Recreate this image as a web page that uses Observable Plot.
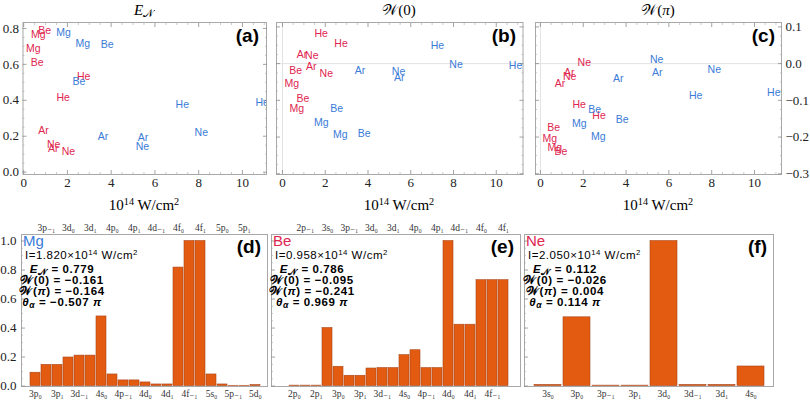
<!DOCTYPE html>
<html>
<head>
<meta charset="utf-8">
<script src="https://cdn.jsdelivr.net/npm/d3@7"></script>
<script src="https://cdn.jsdelivr.net/npm/@observablehq/plot@0.6"></script>
<style>
html,body{margin:0;padding:0;background:#fff;}
#root{position:relative;width:810px;height:401px;overflow:hidden;background:#fff;}
#root svg{position:absolute;overflow:visible;}
.t{position:absolute;white-space:nowrap;line-height:1;}
.t sup{font-size:0.68em;line-height:0;vertical-align:0.5em;}
.t sub{font-size:0.75em;line-height:0;vertical-align:-0.2em;}
.serif{font-family:"Liberation Serif","DejaVu Serif",serif;}
.sans{font-family:"Liberation Sans",Arial,sans-serif;}
</style>
</head>
<body>
<div id="root"></div>
<script>
// ---------------- data: top panels (one entry per computed point) ----------------
const ptElement   = ["Be","Be","Mg","Mg","He","He","Ar","Ar","Ne","Ne",
                     "Mg","Mg","Be","Be","He","He","Ar","Ar","Ne","Ne"];
const ptSet       = ["set1","set1","set1","set1","set1","set1","set1","set1","set1","set1",
                     "set2","set2","set2","set2","set2","set2","set2","set2","set2","set2"];
const ptIntensity = [0.958, 0.62, 0.67, 0.44, 2.74, 1.81, 0.91, 1.35, 2.05, 1.37,
                     1.82, 2.70, 3.82, 2.53, 7.25, 10.9, 3.63, 5.46, 5.43, 8.12];
const ptEN        = [0.786, 0.610, 0.767, 0.688, 0.530, 0.413, 0.233, 0.130, 0.112, 0.154,
                     0.779, 0.713, 0.710, 0.502, 0.376, 0.385, 0.199, 0.195, 0.140, 0.220];
const ptW0        = [-0.095, -0.018, -0.123, -0.055, 0.055, 0.082, 0.025, -0.009, -0.026, 0.023,
                     -0.161, -0.194, -0.191, -0.123, 0.048, -0.005, -0.020, -0.039, -0.023, -0.003];
const ptWpi       = [-0.241, -0.175, -0.230, -0.205, -0.141, -0.111, -0.055, -0.025, 0.004, -0.035,
                     -0.164, -0.200, -0.152, -0.125, -0.086, -0.080, -0.041, -0.025, 0.012, -0.015];

const xTickValues  = [0, 2, 4, 6, 8, 10];
const enTickValues = [0.0, 0.2, 0.4, 0.6, 0.8];
const wTickValues  = [-0.3, -0.2, -0.1, 0.0, 0.1];

// ---------------- data: bottom panels ----------------
const mgStates = ["3p₀","3p₋₁","3p₁","3d₀","3d₋₁","3d₁","4s₀","4p₀","4p₋₁","4p₁","4d₀",
                  "4d₋₁","4d₁","4f₀","4f₋₁","4f₁","5s₀","5p₀","5p₋₁","5p₁","5d₀"];
const mgValues = [0.092,0.146,0.146,0.197,0.210,0.210,0.480,0.080,0.039,0.039,0.025,
                  0.011,0.011,0.817,1.000,1.000,0.080,0.011,0.002,0.002,0.007];
const beStates = ["2p₀","2p₋₁","2p₁","3s₀","3p₀","3p₋₁","3p₁","3d₀","3d₋₁","3d₁",
                  "4s₀","4p₀","4p₋₁","4p₁","4d₀","4d₋₁","4d₁","4f₀","4f₋₁","4f₁"];
const beValues = [0.003,0.003,0.003,0.400,0.133,0.071,0.071,0.121,0.124,0.124,
                  0.213,0.247,0.124,0.124,1.000,0.423,0.423,0.730,0.730,0.730];
const neStates = ["3s₀","3p₀","3p₋₁","3p₁","3d₀","3d₋₁","3d₁","4s₀"];
const neValues = [0.008,0.474,0.003,0.003,1.000,0.008,0.008,0.135];
const barTickValues = [0.0, 0.2, 0.4, 0.6, 0.8, 1.0];

const panelElement   = ["Mg","Be","Ne"];
const panelIntensity = [1.820, 0.958, 2.050];
const panelEN        = [0.779, 0.786, 0.112];
const panelW0        = [-0.161, -0.095, -0.026];
const panelWpi       = [-0.164, -0.241, 0.004];
const panelTheta     = [-0.507, 0.969, 0.114];

// ---------------- styling ----------------
const RED = "#e0264f", BLUE = "#3a7bd8", BAR = "#e35b10";
const SERIF = "'Liberation Serif','DejaVu Serif',serif";
const SANS = "'Liberation Sans',Arial,sans-serif";
const root = document.getElementById("root");
const minus = v => (v < 0 ? "−" : "") + Math.abs(v).toFixed(3);

function place(svg, left, top) {
  svg.style.left = left + "px";
  svg.style.top = top + "px";
  root.appendChild(svg);
}
function addText(html, x, y, {anchor = "start", size = 12, cls = "sans", weight = "normal", color = "#000", italic = false, spacing = 0, lh = 1} = {}) {
  const d = document.createElement("div");
  d.className = "t " + cls;
  d.innerHTML = html;
  d.style.fontSize = size + "px";
  d.style.fontWeight = weight;
  d.style.color = color;
  d.style.letterSpacing = spacing + "px";
  d.style.lineHeight = lh;
  if (italic) d.style.fontStyle = "italic";
  d.style.left = x + "px";
  d.style.top = (y - (0.84 - (1 - lh) / 2) * size) + "px";
  const tx = anchor === "middle" ? "-50%" : anchor === "end" ? "-100%" : "0";
  d.style.transform = `translateX(${tx})`;
  root.appendChild(d);
}

function tickMarks(axis, anchors, major, minor) {
  const A = axis === "x" ? Plot.axisX : Plot.axisY;
  return anchors.flatMap(anchor => [
    A(major, {anchor, tickSize: -4, fill: "none", label: null, stroke: "#8c8c8c", strokeWidth: 0.8}),
    A(minor, {anchor, tickSize: -2, fill: "none", label: null, stroke: "#a8a8a8", strokeWidth: 0.6})
  ]);
}

// ---------------- top panels ----------------
const xMinor = d3.range(0, 11.01, 0.5).filter(v => v % 2 !== 0);
function topPanel(o) {
  const data = ptElement.map((name, i) => ({name, set: ptSet[i], x: ptIntensity[i], y: o.values[i]}));
  const marks = [];
  if (o.zero) {
    marks.push(Plot.ruleY([0], {stroke: "#e2e2e2"}));
    marks.push(Plot.ruleX([0], {stroke: "#e2e2e2"}));
  }
  marks.push(Plot.frame({stroke: "#a8a8a8"}));
  marks.push(...tickMarks("x", ["top", "bottom"], xTickValues, xMinor));
  marks.push(...tickMarks("y", ["left", "right"], o.yTicks, o.yMinor));
  marks.push(Plot.axisX(xTickValues, {anchor: "bottom", tickSize: 0, tickPadding: 3, label: null, fontSize: 13, fill: "#222"}));
  if (o.yLabels) marks.push(Plot.axisY(o.yTicks, {anchor: o.yLabels, tickSize: 0, tickPadding: 4, label: null, fontSize: 13, fill: "#222",
    tickFormat: v => (v < 0 ? "−" : "") + Math.abs(v).toFixed(1)}));
  marks.push(Plot.text(data, {x: "x", y: "y", text: "name", fill: "set", fontSize: 10.5, fontFamily: SANS, clip: true}));
  const svg = Plot.plot({
    width: o.width, height: 200,
    marginLeft: o.frame[0] - o.left, marginRight: o.left + o.width - o.frame[1],
    marginTop: 22, marginBottom: 26,
    x: {domain: o.xDomain},
    y: {domain: o.yDomain},
    color: {domain: ["set1", "set2"], range: [RED, BLUE]},
    style: {fontFamily: SERIF, fontSize: "13px", background: "none", overflow: "visible"},
    marks
  });
  place(svg, o.left, 0);
}

topPanel({left: 0, width: 270, frame: [22.5, 266], xDomain: [-0.03, 11.1], yDomain: [-0.013, 0.833],
  values: ptEN, yTicks: enTickValues, yMinor: d3.range(0, 0.81, 0.05).filter(v => Math.round(v * 20) % 4 !== 0), yLabels: "left"});
topPanel({left: 270, width: 256, frame: [276, 522.5], xDomain: [-0.28, 11.25], yDomain: [-0.302, 0.112],
  values: ptW0, yTicks: wTickValues, yMinor: d3.range(-0.3, 0.101, 0.025).filter(v => Math.round(v * 40) % 4 !== 0), yLabels: null, zero: true});
topPanel({left: 530, width: 280, frame: [535, 781], xDomain: [-0.23, 11.26], yDomain: [-0.302, 0.112],
  values: ptWpi, yTicks: wTickValues, yMinor: d3.range(-0.3, 0.101, 0.025).filter(v => Math.round(v * 40) % 4 !== 0), yLabels: "right", zero: true});

// titles, axis labels, panel tags
const topCenters = [144, 399, 658];
addText('<i>E</i><sub>𝒩</sub>', topCenters[0], 15.5, {anchor: "middle", size: 15, cls: "serif"});
addText('𝒲(0)', topCenters[1], 16, {anchor: "middle", size: 15, cls: "serif"});
addText('𝒲(<i>π</i>)', topCenters[2], 16, {anchor: "middle", size: 15, cls: "serif"});
for (const c of topCenters) addText('10<sup>14</sup> W/cm<sup>2</sup>', c, 211, {anchor: "middle", size: 15, cls: "serif"});
addText('(a)', 259, 41.5, {anchor: "end", size: 19, weight: "bold"});
addText('(b)', 516, 41.5, {anchor: "end", size: 19, weight: "bold"});
addText('(c)', 775, 41.5, {anchor: "end", size: 19, weight: "bold"});

// ---------------- bottom panels ----------------
const barMinor = d3.range(0, 1.01, 0.05).filter(v => Math.round(v * 20) % 4 !== 0);
function barPanel(o) {
  const data = o.states.map((s, i) => ({s, v: o.values[i]}));
  const bottomTicks = o.alternate ? o.states.filter((_, i) => i % 2 === 0) : o.states;
  const topTicks = o.alternate ? o.states.filter((_, i) => i % 2 === 1) : [];
  const marks = [
    Plot.barY(data, {x: "s", y: "v", fill: BAR, stroke: "#a9461a", strokeWidth: 0.6}),
    Plot.frame({stroke: "#a8a8a8"}),
    ...tickMarks("y", ["left"], barTickValues, barMinor),
    Plot.axisX(bottomTicks, {anchor: "bottom", tickSize: 0, tickPadding: 4, label: null, fontSize: 9.5, fill: "#333"})
  ];
  if (topTicks.length) marks.push(Plot.axisX(topTicks, {anchor: "top", tickSize: 0, tickPadding: 4, label: null, fontSize: 9.5, fill: "#333"}));
  if (o.yLabels) marks.push(Plot.axisY(barTickValues, {anchor: "left", tickSize: 0, tickPadding: 5, label: null, fontSize: 13, fill: "#222",
    tickFormat: v => v.toFixed(1)}));
  const svg = Plot.plot({
    width: o.width, height: 186,
    marginLeft: o.frame[0] - o.left, marginRight: o.left + o.width - o.frame[1],
    marginTop: 20, marginBottom: 14,
    x: {type: "band", domain: o.states, range: [o.bars[0] - o.left, o.bars[1] - o.left], padding: 0.06},
    y: {domain: [-0.003, 1.045]},
    style: {fontFamily: SERIF, fontSize: "13px", background: "none", overflow: "visible"},
    marks
  });
  place(svg, o.left, 214);
}

const bottomFrames = [[21, 267], [271, 520], [524, 773]];
barPanel({left: 0, width: 270, frame: bottomFrames[0], bars: [28.3, 263], states: mgStates, values: mgValues, alternate: true, yLabels: true});
barPanel({left: 268, width: 254, frame: bottomFrames[1], bars: [281.7, 515.7], states: beStates, values: beValues, alternate: true});
barPanel({left: 522, width: 288, frame: bottomFrames[2], bars: [531.7, 767.3], states: neStates, values: neValues, alternate: false});

const tags = ["(d)", "(e)", "(f)"];
bottomFrames.forEach(([fl, fr], i) => {
  addText(panelElement[i], fl + 2, 246.5, {size: 15, color: panelElement[i] === "Mg" ? BLUE : RED, lh: 0.8});
  addText(`I=${panelIntensity[i].toFixed(3)}×10<sup>14</sup> W/cm<sup>2</sup>`, fl + 4, 258.8, {size: 11.5, spacing: 0.5, lh: 0.75});
  const cx = fl + 41;
  const opt = {anchor: "middle", size: 11.5, weight: "bold", spacing: 0.6, lh: 0.8};
  addText(`<i>E</i><sub>𝒩</sub> = ${panelEN[i].toFixed(3)}`, cx, 274, opt);
  addText(`𝒲(0) = ${minus(panelW0[i])}`, cx, 285, opt);
  addText(`𝒲(<i>π</i>) = ${minus(panelWpi[i])}`, cx, 296, opt);
  addText(`<i>θ</i><sub><i>α</i></sub> = ${minus(panelTheta[i])} <i>π</i>`, cx, 307, opt);
  addText(tags[i], fr - 6, 252.5, {anchor: "end", size: 19, weight: "bold"});
});
</script>
</body>
</html>
